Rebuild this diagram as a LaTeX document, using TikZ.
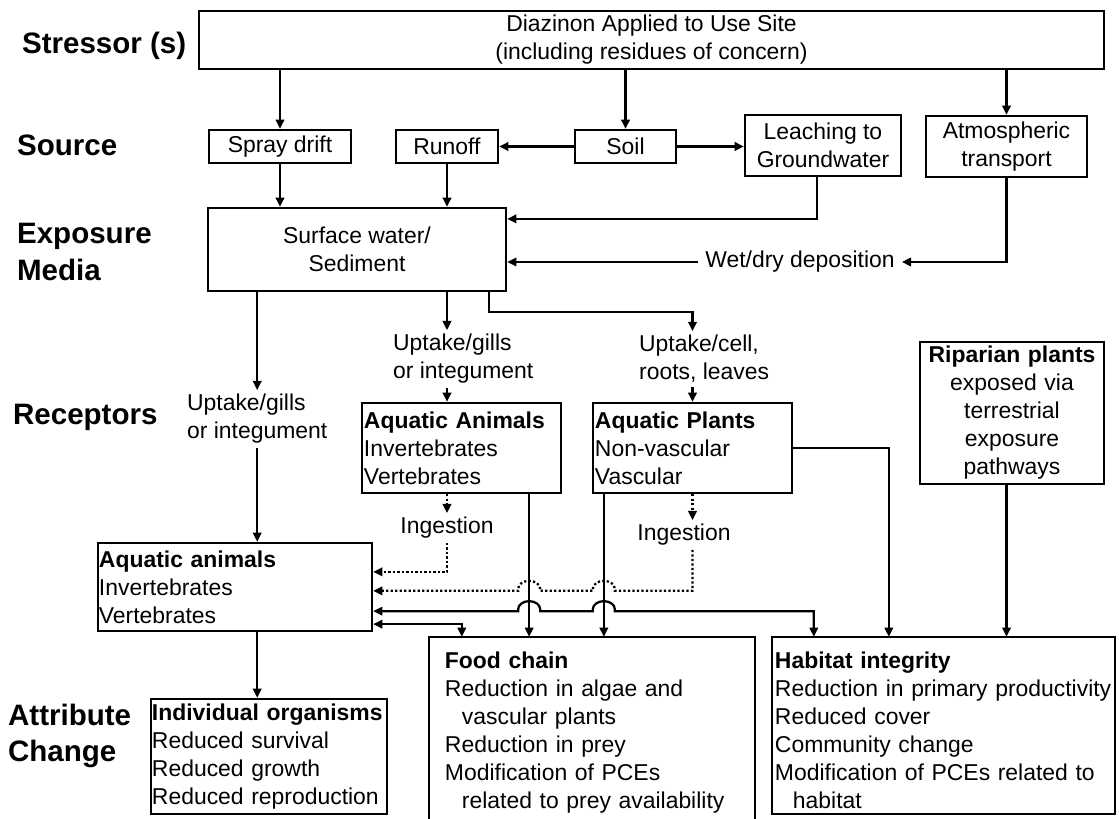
\documentclass[tikz,border=0pt]{standalone}
\usepackage{fontspec}
\setmainfont{Liberation Sans}
\usetikzlibrary{arrows.meta, calc, positioning}

\begin{document}
\begin{tikzpicture}[x=0.025cm, y=-0.025cm, >={Triangle[length=2.3mm,width=2.1mm]}, line width=1.6pt,
    txt/.style={font=\fontsize{16.3}{19.9}\selectfont, inner sep=0pt},
    box/.style={txt, draw, rectangle, inner xsep=0.05cm},
    stage/.style={font=\fontsize{21}{26.2}\selectfont\bfseries, anchor=west, align=left, inner sep=0pt},
    ingest/.style={->, dash pattern=on 1.6pt off 1.6pt}]
\useasboundingbox (0,0) rectangle (1119,819);

% row labels
\node[stage] (lstress) at (21,46) {Stressor (s)};
\node[stage] (lsource) at (16,145) {Source};
\node[stage] (lexpo) at (16,252) {Exposure\\Media};
\node[stage] (lrecep) at (12,417) {Receptors};
\node[stage] (lattr) at (7,736) {Attribute\\Change};

% stressor and sources
\node[box, align=center, minimum width=22.625cm, minimum height=1.45cm] (diaz) at (651.5,40)
    {Diazinon Applied to Use Site\\(including residues of concern)};
\node[box, minimum width=3.55cm, minimum height=0.825cm] (spray) at (280,146.5) {Spray drift};
\node[box, minimum width=2.55cm, minimum height=0.825cm] (runoff) at (447,146.5) {Runoff};
\node[box, minimum width=2.525cm, minimum height=0.825cm] (soil) at (625.5,146.5) {Soil};
\node[box, align=center, minimum width=3.9cm, minimum height=1.525cm] (leach) at (823,145.5) {Leaching to\\Groundwater};
\node[box, align=center, minimum width=4.025cm, minimum height=1.525cm] (atmos) at (1006.5,146.5) {Atmospheric\\transport};

% exposure media
\node[box, align=center, minimum width=7.45cm, minimum height=2.075cm] (surf) at (357,249.5) {Surface water/\\Sediment};
\node[txt, inner xsep=0.15cm] (wetdry) at (800,262) {Wet/dry deposition};

\draw[->] (spray.north |- diaz.south) -- (spray.north);
\draw[->] (soil.north |- diaz.south) -- (soil.north);
\draw[->] (atmos.north |- diaz.south) -- (atmos.north);
\draw[->] (soil.west) -- (runoff.east);
\draw[->] (soil.east) -- (soil.east -| leach.west);
\draw[->] (spray.south) -- (spray.south |- surf.north);
\draw[->] (runoff.south) -- (runoff.south |- surf.north);
\draw[->] ($(leach.south)+(-6,0)$) |- ($(surf.north east)+(0,12)$);
\draw[->] (atmos.south) |- (wetdry.east);
\draw[->] (wetdry.west) -- (surf.east |- wetdry.west);

% receptors
\node[txt, anchor=west, align=left, inner ysep=0.075cm] (upt1) at (186,419) {Uptake/gills\\or integument};
\node[txt, anchor=west, align=left, inner ysep=0.075cm] (upt2) at (392,359) {Uptake/gills\\or integument};
\node[txt, anchor=west, align=left, inner ysep=0.075cm] (upt3) at (638,359) {Uptake/cell,\\roots, leaves};
\node[box, align=left, text width=4.875cm, minimum width=4.975cm, minimum height=2.25cm] (aqup) at (461.5,448)
    {\textbf{Aquatic Animals}\\Invertebrates\\Vertebrates};
\node[box, align=left, text width=4.875cm, minimum width=4.975cm, minimum height=2.25cm] (aqpl) at (692.5,448)
    {\textbf{Aquatic Plants}\\Non-vascular\\Vascular};
\node[box, align=center, text width=4.5cm, minimum width=4.6cm, minimum height=3.55cm] (rip) at (1012,413)
    {\textbf{Riparian plants}\\exposed via\\terrestrial\\exposure\\pathways};
\node[txt, inner ysep=0.075cm] (ing1) at (447,528) {Ingestion};
\node[txt, inner ysep=0.075cm] (ing2) at (684,535) {Ingestion};
\node[box, align=left, inner xsep=0.02cm, text width=6.8cm, minimum width=6.85cm, minimum height=2.2cm] (aqlow) at (235,587)
    {\textbf{Aquatic animals}\\Invertebrates\\Vertebrates};

\draw[->] (surf.south -| upt1) -- (upt1.north);
\draw[->] (upt1.south) -- (upt1.south |- aqlow.north);
\draw[->] (surf.south -| runoff) -- (upt2.north -| runoff);
\draw[->] (upt2.south -| runoff) -- (aqup.north -| runoff);
\draw[->] ($(surf.south east)+(-18,0)$) -- ++(0,20) -| (aqpl.north |- upt3.north);
\draw[->] (aqpl.north |- upt3.south) -- (aqpl.north);
\draw[ingest] (aqup.south -| ing1) -- (ing1.north);
\draw[ingest] (aqpl.south) -- (aqpl.south |- ing2.north);

% attribute change
\node[box, align=left, inner xsep=0.02cm, text width=5.85cm, minimum width=5.9cm, minimum height=2.875cm] (indiv) at (269,756.5)
    {\textbf{Individual organisms}\\Reduced survival\\Reduced growth\\Reduced reproduction};
\node[txt, align=left, inner xsep=0.375cm, text width=7.35cm, minimum width=8.1cm, minimum height=4.725cm] (food) at (592,732.5)
    {\textbf{Food chain}\\Reduction in algae and\\\hspace*{0.425cm}vascular plants\\Reduction in prey\\Modification of PCEs\\\hspace*{0.425cm}related to prey availability};
\draw (food.north west) rectangle ($(food.south east)+(0,15)$);
\node[txt, align=left, inner xsep=0.05cm, text width=8.425cm, minimum width=8.525cm, minimum height=4.6cm] (hab) at (943.5,730)
    {\textbf{Habitat integrity}\\Reduction in primary productivity\\Reduced cover\\Community change\\Modification of PCEs related to\\\hspace*{0.45cm}habitat};
\draw (hab.north west) rectangle ($(hab.south east)+(0,-9)$);

\coordinate (vA) at ($(aqup.south east)+(-33,0)$);
\coordinate (vP) at ($(aqpl.south west)+(12,0)$);
\coordinate (hopline) at ($(aqlow.south east)+(0,-21)$);
\coordinate (dotline) at ($(aqlow.north east)+(0,49)$);

\draw[->] (aqlow.south -| upt1) -- (indiv.north -| upt1);
\draw[->] (vA) -- (vA |- food.north);
\draw[->] (vP) -- (vP |- food.north);
\draw[->] (aqpl.east) -| ($(hab.north west)+(117,0)$);
\draw[->] (rip.south -| atmos.south) -- (hab.north -| atmos.south);
\draw[ingest] (ing1.south) |- ($(aqlow.north east)+(0,30)$);
\draw[ingest] (aqpl.south |- ing2.south) -- (aqpl.south |- dotline)
    -- ($(vP |- dotline)+(11,0)$) -- ++(0,-2) arc[start angle=0, end angle=-180, x radius=11, y radius=8] -- ++(0,2)
    -- ($(vA |- dotline)+(11,0)$) -- ++(0,-2) arc[start angle=0, end angle=-180, x radius=11, y radius=8] -- ++(0,2)
    -- (aqlow.east |- dotline);
\draw[<->] (hopline)
    -- ($(vA |- hopline)+(-11,0)$) -- ++(0,-2) arc[start angle=180, end angle=360, x radius=11, y radius=8] -- ++(0,2)
    -- ($(vP |- hopline)+(-11,0)$) -- ++(0,-2) arc[start angle=180, end angle=360, x radius=11, y radius=8] -- ++(0,2)
    -| ($(hab.north west)+(42,0)$);
\draw[<->] ($(aqlow.south east)+(0,-8)$) -| ($(food.north west)+(33,0)$);
\end{tikzpicture}
\end{document}
